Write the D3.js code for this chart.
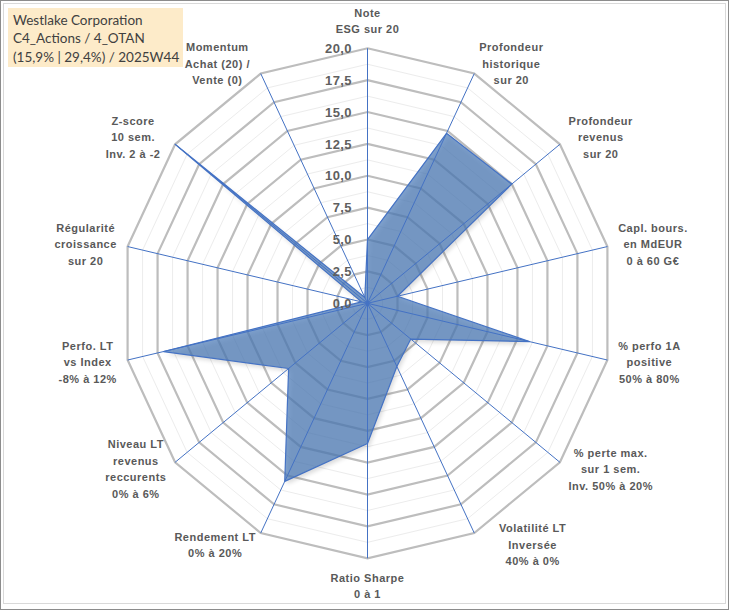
<!DOCTYPE html>
<html>
<head>
<meta charset="utf-8">
<script src="https://cdn.jsdelivr.net/npm/d3@7/dist/d3.min.js"></script>
<style>
  html, body { margin: 0; padding: 0; background: #fff; }
  svg { display: block; }
</style>
</head>
<body>
<svg id="chart" width="729" height="610"></svg>
<script>
// ---------- DATA ----------
const categories = [
  "Note\nESG sur 20",
  "Profondeur\nhistorique\nsur 20",
  "Profondeur\nrevenus\nsur 20",
  "Capl. bours.\nen MdEUR\n0 à 60 G€",
  "% perfo 1A\npositive\n50% à 80%",
  "% perte max.\nsur 1 sem.\nInv. 50% à 20%",
  "Volatilité LT\nInversée\n40% à 0%",
  "Ratio Sharpe\n0 à 1",
  "Rendement LT\n0% à 20%",
  "Niveau LT\nrevenus\nreccurents\n0% à 6%",
  "Perfo. LT\nvs Index\n-8% à 12%",
  "Régularité\ncroissance\nsur 20",
  "Z-score\n10 sem.\nInv. 2 à -2",
  "Momentum\nAchat (20) /\nVente (0)"
];
const seriesValues = [5.0, 14.8, 15.0, 2.5, 13.5, 4.5, 5.5, 11.0, 15.5, 8.2, 17.0, 0.5, 20.0, 0.5];
const majorTicks = [0, 2.5, 5, 7.5, 10, 12.5, 15, 17.5, 20];
const minorTicks = [1.25, 3.75, 6.25, 8.75, 11.25, 13.75, 16.25, 18.75];
const tickLabels = ["0,0", "2,5", "5,0", "7,5", "10,0", "12,5", "15,0", "17,5", "20,0"];
const titleLines = ["Westlake Corporation", "C4_Actions / 4_OTAN", "(15,9% | 29,4%) / 2025W44"];

// ---------- LAYOUT ----------
const W = 729, H = 610;
const cx = 367.5, cy = 303.3, R = 255, xStretch = 0.965;
const n = categories.length;
// small horizontal label adjustments (layout only)
const labelShiftX = [0, 0, 0, 0, 0, 0, 20, 0, 0, 0, 0, 0, -6, -6];
const svg = d3.select("#chart");

const r = d3.scaleLinear().domain([0, 20]).range([0, R]);
const ang = d3.scaleLinear().domain([0, n]).range([0, 2 * Math.PI]);
const pt = (i, v) => {
  const a = ang(i);
  return [cx + xStretch * r(v) * Math.sin(a), cy - r(v) * Math.cos(a)];
};

// borders
svg.append("rect").attr("x", 0.5).attr("y", 0.5).attr("width", W - 1).attr("height", H - 1)
  .attr("fill", "#fff").attr("stroke", "#8c8c8c");
svg.append("rect").attr("x", 3.5).attr("y", 3.5).attr("width", 722).attr("height", 600)
  .attr("fill", "none").attr("stroke", "#d9d9d9");

const ringLine = d3.line().curve(d3.curveLinearClosed);
const idx = d3.range(n);

// minor grid
svg.append("g").selectAll("path").data(minorTicks).join("path")
  .attr("d", v => ringLine(idx.map(i => pt(i, v))))
  .attr("fill", "none").attr("stroke", "#ececec").attr("stroke-width", 1);
// major grid
svg.append("g").selectAll("path").data(majorTicks.filter(v => v > 0)).join("path")
  .attr("d", v => ringLine(idx.map(i => pt(i, v))))
  .attr("fill", "none").attr("stroke", "#bdbdbd").attr("stroke-width", 2.2);

// shadow
const defs = svg.append("defs");
defs.append("filter").attr("id", "blur").attr("x", "-10%").attr("y", "-10%").attr("width", "120%").attr("height", "120%")
  .append("feGaussianBlur").attr("stdDeviation", 2.2);
const seriesPts = seriesValues.map((v, i) => pt(i, v));
svg.append("path")
  .attr("d", ringLine(seriesPts))
  .attr("transform", "translate(2,3)")
  .attr("fill", "#000").attr("opacity", 0.14).attr("filter", "url(#blur)");

// series fill
svg.append("path")
  .attr("d", ringLine(seriesPts))
  .attr("fill", "#4c7cb8").attr("fill-opacity", 0.72)
  .attr("stroke", "none");

// radial axes
svg.append("g").selectAll("line").data(idx).join("line")
  .attr("x1", cx).attr("y1", cy)
  .attr("x2", i => pt(i, 20)[0]).attr("y2", i => pt(i, 20)[1])
  .attr("stroke", "#4472c4").attr("stroke-width", 1);

// series outline
svg.append("path")
  .attr("d", ringLine(seriesPts))
  .attr("fill", "none").attr("stroke", "#4472c4").attr("stroke-width", 1.2)
  .attr("stroke-linejoin", "round");

svg.append("circle").attr("cx", cx).attr("cy", cy).attr("r", 2).attr("fill", "#4472c4");

// tick labels
svg.append("g").selectAll("text").data(majorTicks).join("text")
  .attr("x", 352).attr("y", v => cy - r(v)).attr("dy", "0.36em")
  .attr("text-anchor", "end")
  .attr("font-family", "Liberation Sans, Arial, sans-serif")
  .attr("font-weight", "bold").attr("font-size", 13).attr("letter-spacing", 0.4)
  .attr("fill", "#5f5f5f")
  .text((v, i) => tickLabels[i]);

// category labels
const lh = 16.5, gap = 11;
const lblG = svg.append("g")
  .attr("font-family", "Liberation Sans, Arial, sans-serif")
  .attr("font-weight", "bold").attr("font-size", 11).attr("letter-spacing", 0.5)
  .attr("fill", "#595959").attr("text-anchor", "middle");
categories.forEach((c, i) => {
  const lines = c.split("\n");
  const t = lblG.append("text");
  lines.forEach((l, k) => t.append("tspan").attr("x", 0).attr("y", k * lh).text(l));
  const w = t.node().getBBox().width;
  const h = lines.length * lh;
  const a = ang(i);
  const s = Math.sin(a), co = Math.cos(a);
  const p = pt(i, 20);
  let dx, dy;
  if (Math.abs(s) < 1e-6) {
    dx = 0;
    dy = -co * (gap + h / 2);
  } else {
    dx = s * gap + Math.sign(s) * w / 2;
    dy = -co * gap + (co < -0.8 ? 2 : 0);
  }
  const ccx = p[0] + dx + labelShiftX[i], ccy = p[1] + dy;
  const y0 = ccy - (lines.length - 1) / 2 * lh + 4;
  t.selectAll("tspan").attr("x", ccx).attr("y", (d, k) => y0 + k * lh);
});

// title box
svg.append("rect").attr("x", 8).attr("y", 8).attr("width", 175).attr("height", 59)
  .attr("fill", "#fdebc9");
svg.append("g").selectAll("text").data(titleLines).join("text")
  .attr("x", 13).attr("y", (d, i) => 25 + i * 18.3)
  .attr("font-family", "Lato, Carlito, Calibri, sans-serif")
  .attr("font-size", 13.5).attr("fill", "#404040")
  .text(d => d);
</script>
</body>
</html>
